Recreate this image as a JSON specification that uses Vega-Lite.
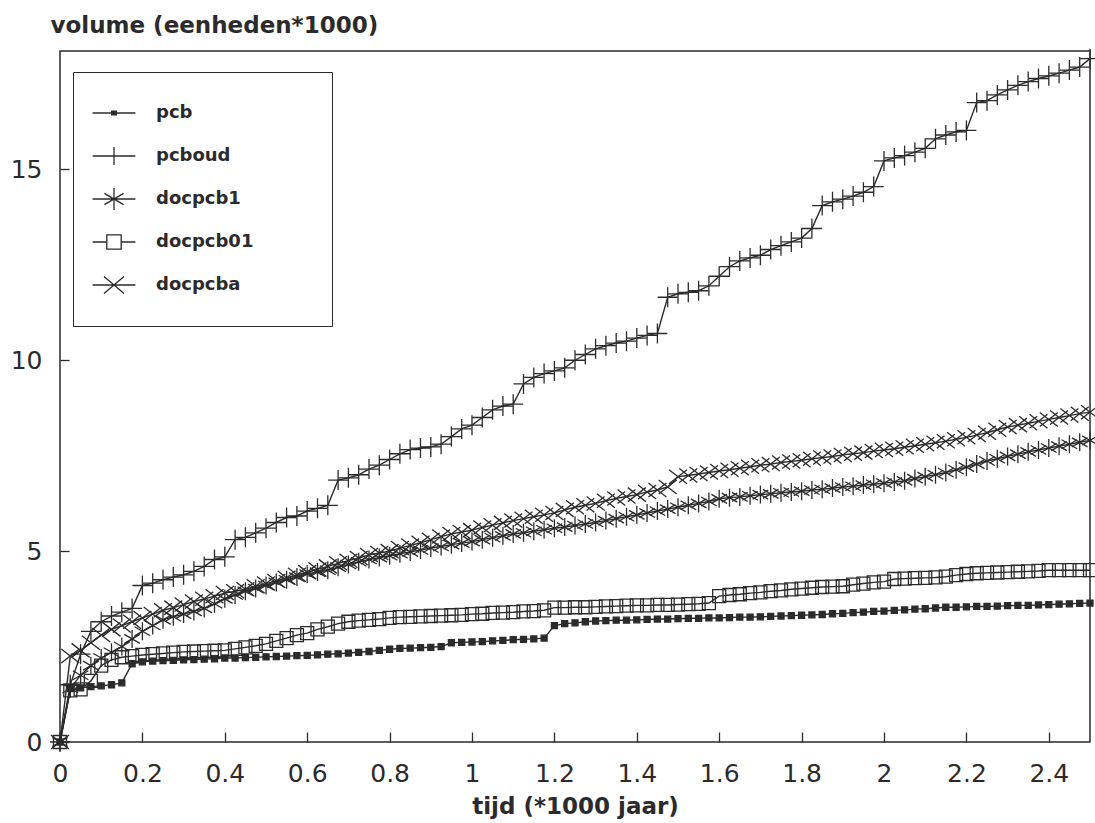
{
  "$schema": "https://vega.github.io/schema/vega-lite/v6.json",
  "width": 1030,
  "height": 691,
  "autosize": {"type": "none"},
  "padding": {"left": 60, "top": 51, "right": 5, "bottom": 81},
  "background": "white",
  "config": {
    "view": {"stroke": "#2b2b2b", "strokeWidth": 1.5},
    "font": "DejaVu Sans"
  },
  "data": {"values": [
    {"t":0,"pcb":0,"pcboud":0,"docpcb1":0,"docpcb01":0,"docpcba":0},
    {"t":0.025,"pcb":1.40,"pcboud":1.5,"docpcb1":1.4,"docpcb01":1.35,"docpcba":2.25},
    {"t":0.05,"pcb":1.42,"pcboud":2.3,"docpcb1":1.75,"docpcb01":1.38,"docpcba":2.4},
    {"t":0.075,"pcb":1.45,"pcboud":2.9,"docpcb1":2.0,"docpcb01":1.6,"docpcba":2.6},
    {"t":0.1,"pcb":1.47,"pcboud":3.15,"docpcb1":2.2,"docpcb01":2.0,"docpcba":2.8},
    {"t":0.125,"pcb":1.50,"pcboud":3.3,"docpcb1":2.35,"docpcb01":2.15,"docpcba":2.95},
    {"t":0.15,"pcb":1.55,"pcboud":3.4,"docpcb1":2.5,"docpcb01":2.22,"docpcba":3.05},
    {"t":0.175,"pcb":2.05,"pcboud":3.5,"docpcb1":2.7,"docpcb01":2.25,"docpcba":3.15},
    {"t":0.2,"pcb":2.10,"pcboud":4.1,"docpcb1":2.9,"docpcb01":2.28,"docpcba":3.25},
    {"t":0.225,"pcb":2.12,"pcboud":4.16,"docpcb1":3.05,"docpcb01":2.3,"docpcba":3.35},
    {"t":0.25,"pcb":2.13,"pcboud":4.25,"docpcb1":3.2,"docpcb01":2.32,"docpcba":3.45},
    {"t":0.275,"pcb":2.14,"pcboud":4.32,"docpcb1":3.28,"docpcb01":2.34,"docpcba":3.52},
    {"t":0.3,"pcb":2.15,"pcboud":4.38,"docpcb1":3.35,"docpcb01":2.36,"docpcba":3.6},
    {"t":0.325,"pcb":2.16,"pcboud":4.47,"docpcb1":3.42,"docpcb01":2.37,"docpcba":3.68},
    {"t":0.35,"pcb":2.17,"pcboud":4.6,"docpcb1":3.5,"docpcb01":2.38,"docpcba":3.75},
    {"t":0.375,"pcb":2.18,"pcboud":4.78,"docpcb1":3.62,"docpcb01":2.39,"docpcba":3.82},
    {"t":0.4,"pcb":2.20,"pcboud":4.85,"docpcb1":3.75,"docpcb01":2.4,"docpcba":3.9},
    {"t":0.425,"pcb":2.20,"pcboud":5.3,"docpcb1":3.85,"docpcb01":2.44,"docpcba":3.95},
    {"t":0.45,"pcb":2.21,"pcboud":5.36,"docpcb1":3.95,"docpcb01":2.48,"docpcba":4.0},
    {"t":0.475,"pcb":2.22,"pcboud":5.48,"docpcb1":4.02,"docpcb01":2.52,"docpcba":4.08},
    {"t":0.5,"pcb":2.23,"pcboud":5.6,"docpcb1":4.1,"docpcb01":2.57,"docpcba":4.15},
    {"t":0.525,"pcb":2.24,"pcboud":5.75,"docpcb1":4.18,"docpcb01":2.65,"docpcba":4.22},
    {"t":0.55,"pcb":2.25,"pcboud":5.88,"docpcb1":4.25,"docpcb01":2.72,"docpcba":4.3},
    {"t":0.575,"pcb":2.26,"pcboud":5.92,"docpcb1":4.32,"docpcb01":2.8,"docpcba":4.38},
    {"t":0.6,"pcb":2.27,"pcboud":6.05,"docpcb1":4.4,"docpcb01":2.85,"docpcba":4.45},
    {"t":0.625,"pcb":2.28,"pcboud":6.12,"docpcb1":4.45,"docpcb01":2.95,"docpcba":4.52},
    {"t":0.65,"pcb":2.30,"pcboud":6.2,"docpcb1":4.5,"docpcb01":3.02,"docpcba":4.6},
    {"t":0.675,"pcb":2.31,"pcboud":6.86,"docpcb1":4.58,"docpcb01":3.1,"docpcba":4.68},
    {"t":0.7,"pcb":2.33,"pcboud":6.92,"docpcb1":4.65,"docpcb01":3.15,"docpcba":4.75},
    {"t":0.725,"pcb":2.35,"pcboud":7.0,"docpcb1":4.72,"docpcb01":3.18,"docpcba":4.82},
    {"t":0.75,"pcb":2.37,"pcboud":7.15,"docpcb1":4.78,"docpcb01":3.2,"docpcba":4.9},
    {"t":0.775,"pcb":2.40,"pcboud":7.25,"docpcb1":4.83,"docpcb01":3.22,"docpcba":4.95},
    {"t":0.8,"pcb":2.43,"pcboud":7.4,"docpcb1":4.88,"docpcb01":3.25,"docpcba":5.0},
    {"t":0.825,"pcb":2.45,"pcboud":7.55,"docpcb1":4.93,"docpcb01":3.27,"docpcba":5.08},
    {"t":0.85,"pcb":2.46,"pcboud":7.66,"docpcb1":4.98,"docpcb01":3.28,"docpcba":5.15},
    {"t":0.875,"pcb":2.47,"pcboud":7.7,"docpcb1":5.03,"docpcb01":3.29,"docpcba":5.22},
    {"t":0.9,"pcb":2.48,"pcboud":7.73,"docpcb1":5.08,"docpcb01":3.3,"docpcba":5.3},
    {"t":0.925,"pcb":2.50,"pcboud":7.8,"docpcb1":5.12,"docpcb01":3.31,"docpcba":5.38},
    {"t":0.95,"pcb":2.60,"pcboud":8.0,"docpcb1":5.17,"docpcb01":3.32,"docpcba":5.45},
    {"t":0.975,"pcb":2.61,"pcboud":8.2,"docpcb1":5.21,"docpcb01":3.33,"docpcba":5.5},
    {"t":1.0,"pcb":2.62,"pcboud":8.3,"docpcb1":5.25,"docpcb01":3.35,"docpcba":5.55},
    {"t":1.025,"pcb":2.63,"pcboud":8.5,"docpcb1":5.3,"docpcb01":3.36,"docpcba":5.62},
    {"t":1.05,"pcb":2.65,"pcboud":8.7,"docpcb1":5.35,"docpcb01":3.38,"docpcba":5.68},
    {"t":1.075,"pcb":2.66,"pcboud":8.8,"docpcb1":5.4,"docpcb01":3.39,"docpcba":5.74},
    {"t":1.1,"pcb":2.68,"pcboud":8.85,"docpcb1":5.45,"docpcb01":3.4,"docpcba":5.8},
    {"t":1.125,"pcb":2.69,"pcboud":9.38,"docpcb1":5.48,"docpcb01":3.42,"docpcba":5.85},
    {"t":1.15,"pcb":2.70,"pcboud":9.55,"docpcb1":5.52,"docpcb01":3.43,"docpcba":5.9},
    {"t":1.175,"pcb":2.72,"pcboud":9.65,"docpcb1":5.56,"docpcb01":3.45,"docpcba":5.95},
    {"t":1.2,"pcb":3.05,"pcboud":9.72,"docpcb1":5.6,"docpcb01":3.52,"docpcba":6.0},
    {"t":1.225,"pcb":3.10,"pcboud":9.8,"docpcb1":5.63,"docpcb01":3.52,"docpcba":6.08},
    {"t":1.25,"pcb":3.12,"pcboud":10.0,"docpcb1":5.67,"docpcb01":3.53,"docpcba":6.15},
    {"t":1.275,"pcb":3.15,"pcboud":10.15,"docpcb1":5.71,"docpcb01":3.53,"docpcba":6.2},
    {"t":1.3,"pcb":3.17,"pcboud":10.3,"docpcb1":5.75,"docpcb01":3.54,"docpcba":6.25},
    {"t":1.325,"pcb":3.18,"pcboud":10.38,"docpcb1":5.8,"docpcb01":3.55,"docpcba":6.32},
    {"t":1.35,"pcb":3.19,"pcboud":10.45,"docpcb1":5.85,"docpcb01":3.56,"docpcba":6.38},
    {"t":1.375,"pcb":3.19,"pcboud":10.5,"docpcb1":5.9,"docpcb01":3.57,"docpcba":6.43},
    {"t":1.4,"pcb":3.20,"pcboud":10.58,"docpcb1":5.95,"docpcb01":3.58,"docpcba":6.48},
    {"t":1.425,"pcb":3.21,"pcboud":10.65,"docpcb1":6.0,"docpcb01":3.58,"docpcba":6.55},
    {"t":1.45,"pcb":3.22,"pcboud":10.7,"docpcb1":6.05,"docpcb01":3.59,"docpcba":6.6},
    {"t":1.475,"pcb":3.22,"pcboud":11.65,"docpcb1":6.1,"docpcb01":3.59,"docpcba":6.68},
    {"t":1.5,"pcb":3.23,"pcboud":11.74,"docpcb1":6.15,"docpcb01":3.6,"docpcba":6.95},
    {"t":1.525,"pcb":3.24,"pcboud":11.78,"docpcb1":6.2,"docpcb01":3.61,"docpcba":6.98},
    {"t":1.55,"pcb":3.24,"pcboud":11.82,"docpcb1":6.25,"docpcb01":3.62,"docpcba":7.02},
    {"t":1.575,"pcb":3.25,"pcboud":11.95,"docpcb1":6.3,"docpcb01":3.64,"docpcba":7.06},
    {"t":1.6,"pcb":3.25,"pcboud":12.2,"docpcb1":6.37,"docpcb01":3.82,"docpcba":7.1},
    {"t":1.625,"pcb":3.26,"pcboud":12.45,"docpcb1":6.4,"docpcb01":3.85,"docpcba":7.13},
    {"t":1.65,"pcb":3.27,"pcboud":12.6,"docpcb1":6.42,"docpcb01":3.87,"docpcba":7.17},
    {"t":1.675,"pcb":3.27,"pcboud":12.68,"docpcb1":6.45,"docpcb01":3.9,"docpcba":7.21},
    {"t":1.7,"pcb":3.28,"pcboud":12.75,"docpcb1":6.48,"docpcb01":3.92,"docpcba":7.25},
    {"t":1.725,"pcb":3.29,"pcboud":12.9,"docpcb1":6.5,"docpcb01":3.95,"docpcba":7.28},
    {"t":1.75,"pcb":3.30,"pcboud":13.0,"docpcb1":6.53,"docpcb01":3.97,"docpcba":7.32},
    {"t":1.775,"pcb":3.31,"pcboud":13.1,"docpcb1":6.55,"docpcb01":4.0,"docpcba":7.35},
    {"t":1.8,"pcb":3.32,"pcboud":13.2,"docpcb1":6.57,"docpcb01":4.02,"docpcba":7.38},
    {"t":1.825,"pcb":3.33,"pcboud":13.45,"docpcb1":6.6,"docpcb01":4.04,"docpcba":7.42},
    {"t":1.85,"pcb":3.34,"pcboud":14.05,"docpcb1":6.62,"docpcb01":4.06,"docpcba":7.45},
    {"t":1.875,"pcb":3.36,"pcboud":14.15,"docpcb1":6.65,"docpcb01":4.07,"docpcba":7.48},
    {"t":1.9,"pcb":3.37,"pcboud":14.22,"docpcb1":6.68,"docpcb01":4.08,"docpcba":7.52},
    {"t":1.925,"pcb":3.39,"pcboud":14.3,"docpcb1":6.7,"docpcb01":4.12,"docpcba":7.55},
    {"t":1.95,"pcb":3.40,"pcboud":14.4,"docpcb1":6.73,"docpcb01":4.15,"docpcba":7.58},
    {"t":1.975,"pcb":3.42,"pcboud":14.55,"docpcb1":6.75,"docpcb01":4.18,"docpcba":7.62},
    {"t":2.0,"pcb":3.43,"pcboud":15.22,"docpcb1":6.78,"docpcb01":4.2,"docpcba":7.65},
    {"t":2.025,"pcb":3.45,"pcboud":15.3,"docpcb1":6.81,"docpcb01":4.27,"docpcba":7.68},
    {"t":2.05,"pcb":3.46,"pcboud":15.36,"docpcb1":6.84,"docpcb01":4.28,"docpcba":7.72},
    {"t":2.075,"pcb":3.48,"pcboud":15.45,"docpcb1":6.9,"docpcb01":4.29,"docpcba":7.76},
    {"t":2.1,"pcb":3.49,"pcboud":15.55,"docpcb1":6.95,"docpcb01":4.3,"docpcba":7.8},
    {"t":2.125,"pcb":3.51,"pcboud":15.8,"docpcb1":7.0,"docpcb01":4.31,"docpcba":7.84},
    {"t":2.15,"pcb":3.53,"pcboud":15.9,"docpcb1":7.06,"docpcb01":4.33,"docpcba":7.88},
    {"t":2.175,"pcb":3.53,"pcboud":15.98,"docpcb1":7.13,"docpcb01":4.37,"docpcba":7.93},
    {"t":2.2,"pcb":3.54,"pcboud":16.02,"docpcb1":7.2,"docpcb01":4.4,"docpcba":7.98},
    {"t":2.225,"pcb":3.55,"pcboud":16.75,"docpcb1":7.28,"docpcb01":4.42,"docpcba":8.04},
    {"t":2.25,"pcb":3.55,"pcboud":16.8,"docpcb1":7.36,"docpcb01":4.43,"docpcba":8.1},
    {"t":2.275,"pcb":3.56,"pcboud":16.95,"docpcb1":7.42,"docpcb01":4.44,"docpcba":8.18},
    {"t":2.3,"pcb":3.57,"pcboud":17.08,"docpcb1":7.48,"docpcb01":4.45,"docpcba":8.25},
    {"t":2.325,"pcb":3.58,"pcboud":17.2,"docpcb1":7.54,"docpcb01":4.46,"docpcba":8.3},
    {"t":2.35,"pcb":3.58,"pcboud":17.3,"docpcb1":7.6,"docpcb01":4.47,"docpcba":8.35},
    {"t":2.375,"pcb":3.59,"pcboud":17.38,"docpcb1":7.65,"docpcb01":4.48,"docpcba":8.4},
    {"t":2.4,"pcb":3.60,"pcboud":17.45,"docpcb1":7.7,"docpcb01":4.5,"docpcba":8.45},
    {"t":2.425,"pcb":3.61,"pcboud":17.52,"docpcb1":7.75,"docpcb01":4.5,"docpcba":8.5},
    {"t":2.45,"pcb":3.62,"pcboud":17.6,"docpcb1":7.8,"docpcb01":4.5,"docpcba":8.55},
    {"t":2.475,"pcb":3.63,"pcboud":17.68,"docpcb1":7.85,"docpcb01":4.5,"docpcba":8.6},
    {"t":2.5,"pcb":3.64,"pcboud":17.9,"docpcb1":7.9,"docpcb01":4.5,"docpcba":8.64}
  ]},
  "transform": [
    {"fold": ["pcb", "pcboud", "docpcb1", "docpcb01", "docpcba"], "as": ["series", "value"]}
  ],
  "encoding": {
    "x": {
      "field": "t", "type": "quantitative",
      "scale": {"domain": [0, 2.5], "nice": false, "zero": false},
      "axis": {
        "values": [0, 0.2, 0.4, 0.6, 0.8, 1, 1.2, 1.4, 1.6, 1.8, 2, 2.2, 2.4],
        "format": "~g", "domain": false, "grid": false,
        "tickSize": -10, "tickColor": "#2b2b2b", "tickWidth": 1.3,
        "labelFont": "DejaVu Sans", "labelFontSize": 25, "labelColor": "#2b2b2b",
        "labelPadding": 29, "labelFlush": false, "labelOverlap": false, "labelBound": false,
        "title": "tijd (*1000 jaar)", "titleFont": "DejaVu Sans", "titleFontSize": 23,
        "titleFontWeight": "bold", "titleColor": "#2b2b2b",
        "titleY": 71, "titleBaseline": "alphabetic"
      }
    },
    "y": {
      "field": "value", "type": "quantitative",
      "scale": {"domain": [0, 18.1], "nice": false},
      "axis": {
        "values": [0, 5, 10, 15], "format": "d", "domain": false, "grid": false,
        "tickSize": -9, "tickColor": "#2b2b2b", "tickWidth": 1.3,
        "labelFont": "DejaVu Sans", "labelFontSize": 25, "labelColor": "#2b2b2b",
        "labelPadding": 27, "labelOverlap": false, "labelBound": false,
        "title": "volume (eenheden*1000)", "titleFont": "DejaVu Sans", "titleFontSize": 23,
        "titleFontWeight": "bold", "titleColor": "#2b2b2b",
        "titleAngle": 0, "titleAlign": "left", "titleBaseline": "alphabetic",
        "titleX": -10, "titleY": -19
      }
    }
  },
  "resolve": {"scale": {"shape": "independent"}},
  "layer": [
    {
      "mark": {"type": "line", "color": "#2b2b2b", "strokeWidth": 1.4},
      "encoding": {"detail": {"field": "series"}}
    },
    {
      "mark": {"type": "point", "filled": false, "size": 400, "strokeWidth": 1.3, "color": "#2b2b2b", "opacity": 1},
      "encoding": {
        "shape": {
          "field": "series", "type": "nominal", "legend": null,
          "scale": {
            "domain": ["pcb", "pcboud", "docpcb1", "docpcb01", "docpcba"],
            "range": [
              "M-0.3,-0.3H0.3V0.3H-0.3Z",
              "M-1,0H1M0,-1V1",
              "M0,-0.9V0.9M-0.78,-0.45L0.78,0.45M-0.78,0.45L0.78,-0.45",
              "M-0.65,-0.65H0.65V0.65H-0.65Z",
              "M-0.9,-0.7L0.9,0.7M-0.9,0.7L0.9,-0.7"
            ]
          }
        },
        "fill": {
          "condition": {"test": "datum.series === 'pcb'", "value": "#2b2b2b"},
          "value": "transparent"
        }
      }
    },
    {
      "transform": [{"filter": "datum.t < 0"}],
      "mark": {"type": "point", "filled": false, "size": 1600, "strokeWidth": 1.3, "color": "#2b2b2b", "opacity": 1},
      "encoding": {
        "shape": {
          "field": "series", "type": "nominal",
          "scale": {
            "domain": ["pcb", "pcboud", "docpcb1", "docpcb01", "docpcba"],
            "range": [
              "M-1.07,0H1.07M-0.15,-0.09H0.15M-0.15,-0.045H0.15M-0.15,0.045H0.15M-0.15,0.09H0.15M0,-0.89M0,0.89M9.75,0",
              "M-1.07,0H1.07M0,-0.45V0.45M0,-0.89M0,0.89M9.75,0",
              "M-1.07,0H1.07M0,-0.55V0.55M-0.48,-0.28L0.48,0.28M-0.48,0.28L0.48,-0.28M0,-0.89M0,0.89M9.75,0",
              "M-1.07,0H-0.36M0.36,0H1.07M-0.36,-0.36H0.36V0.36H-0.36ZM0,-0.89M0,0.89M9.75,0",
              "M-1.07,0H1.07M-0.5,-0.42L0.5,0.42M-0.5,0.42L0.5,-0.42M0,-0.89M0,0.89M9.75,0"
            ]
          },
          "legend": {
            "title": null, "orient": "none", "legendX": 13, "legendY": 21,
            "padding": 20, "rowPadding": 1, "symbolSize": 1600,
            "symbolStrokeWidth": 1.3, "symbolStrokeColor": "#2b2b2b",
            "symbolFillColor": "transparent", "symbolOpacity": 1,
            "strokeColor": "#2b2b2b", "fillColor": "white",
            "labelFont": "DejaVu Sans", "labelFontSize": 18, "labelFontWeight": "bold",
            "labelColor": "#2b2b2b", "labelOffset": 21
          }
        }
      }
    }
  ]
}
